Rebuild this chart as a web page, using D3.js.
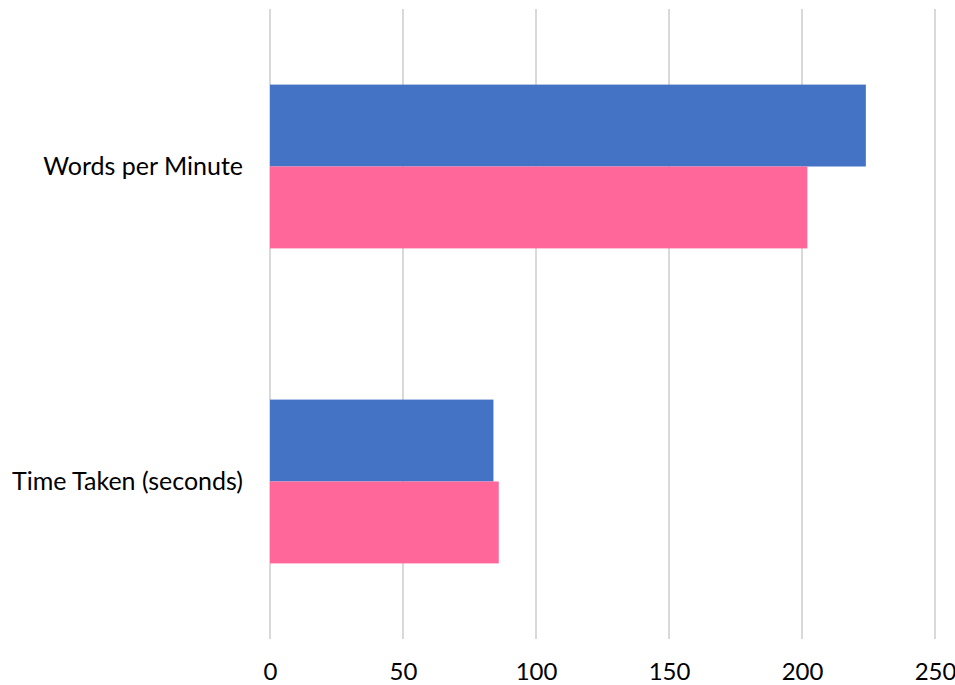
<!DOCTYPE html>
<html>
<head>
<meta charset="utf-8">
<script src="https://cdn.jsdelivr.net/npm/d3@7"></script>
<style>
  html, body { margin: 0; padding: 0; background: #ffffff; overflow: hidden; }
  svg { display: block; }
</style>
</head>
<body>
<div id="chart"></div>
<script>
const categories = ["Words per Minute", "Time Taken (seconds)"];
const seriesNames = ["Series 1", "Series 2"];
const series1Values = [224, 84];
const series2Values = [202, 86];
const tickValues = [0, 50, 100, 150, 200, 250];
const seriesColors = ["#4472C4", "#FF6699"];

const W = 955, H = 685;
const margin = { top: 9, right: 20, bottom: 46, left: 270 };
const plotW = 665, plotH = H - margin.top - margin.bottom;
const fontFamily = "Lato, 'Open Sans', sans-serif";

const svg = d3.select("#chart").append("svg")
  .attr("width", W).attr("height", H);

const x = d3.scaleLinear().domain([0, 250]).range([margin.left, margin.left + plotW]);
const y = d3.scaleBand().domain(categories)
  .range([margin.top, margin.top + plotH])
  .paddingInner(0.48).paddingOuter(0.24);
const ySub = d3.scaleBand().domain(seriesNames).range([0, y.bandwidth()]);

// gridlines
svg.append("g").selectAll("line").data(tickValues).join("line")
  .attr("x1", d => x(d)).attr("x2", d => x(d))
  .attr("y1", margin.top).attr("y2", margin.top + plotH)
  .attr("stroke", "#d9d9d9").attr("stroke-width", 2);

// bars
const data = categories.map((c, i) => ({ cat: c, vals: [series1Values[i], series2Values[i]] }));
const groups = svg.append("g").selectAll("g").data(data).join("g")
  .attr("transform", d => `translate(0,${y(d.cat)})`);
groups.selectAll("rect").data(d => d.vals.map((v, j) => ({ v, s: seriesNames[j], j })))
  .join("rect")
  .attr("x", x(0))
  .attr("y", d => ySub(d.s))
  .attr("width", d => x(d.v) - x(0))
  .attr("height", ySub.bandwidth())
  .attr("fill", d => seriesColors[d.j]);

// x axis labels
const xAxis = d3.axisBottom(x).tickValues(tickValues).tickSize(0).tickPadding(0);
const gx = svg.append("g").attr("transform", `translate(0,${margin.top + plotH})`).call(xAxis);
gx.select(".domain").remove();
gx.selectAll("text")
  .attr("y", 40.5).attr("dy", null)
  .attr("font-family", fontFamily).attr("font-size", 24).attr("fill", "#000");

// y axis labels
const yAxis = d3.axisLeft(y).tickSize(0).tickPadding(0);
const gy = svg.append("g").attr("transform", `translate(${margin.left - 27},0)`).call(yAxis);
gy.select(".domain").remove();
gy.selectAll("text")
  .attr("dy", "0.35em")
  .attr("font-family", fontFamily).attr("font-size", 25).attr("fill", "#000");
</script>
</body>
</html>
